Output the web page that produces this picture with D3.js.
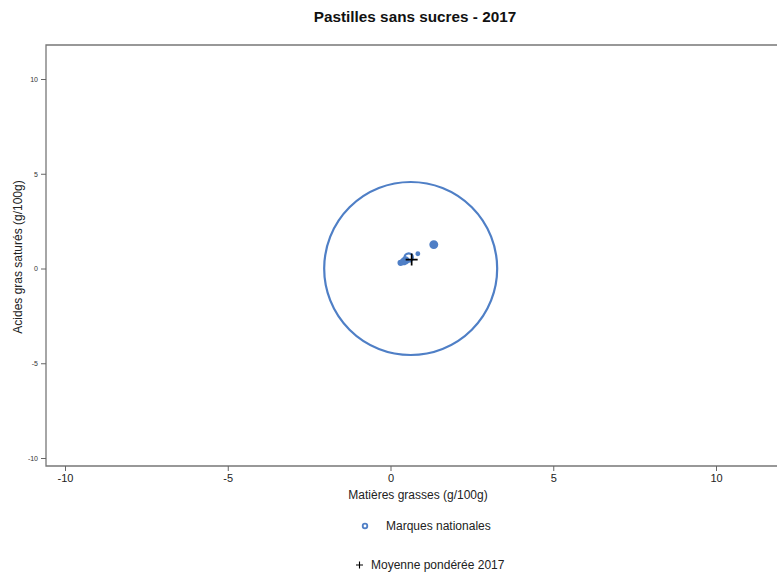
<!DOCTYPE html>
<html><head><meta charset="utf-8">
<script src="https://cdn.jsdelivr.net/npm/d3@7"></script>
<style>body{margin:0;background:#fff;}text{font-family:"Liberation Sans",Arial,sans-serif;}</style>
</head><body>
<svg id="c" width="777" height="576"></svg>
<script>
const title = "Pastilles sans sucres - 2017";
const xLabel = "Matières grasses (g/100g)";
const yLabel = "Acides gras saturés (g/100g)";
const xTicks = [-10, -5, 0, 5, 10];
const yTicks = [-10, -5, 0, 5, 10];
// Marques nationales: fat, saturated fat, weight (bubble size)
const brandFat   = [0.62, 0.31, 0.40, 0.46, 0.56, 0.84, 1.33];
const brandSat   = [0.00, 0.30, 0.36, 0.43, 0.58, 0.78, 1.26];
const brandWeight= [100, 0.12, 0.16, 0.22, 0.35, 0.07, 0.25];
const meanFat = [0.65];
const meanSat = [0.47];
const legendLabels = ["Marques nationales", "Moyenne pondérée 2017"];

(function(){
const blue = "#4f7fc6";
const svg = d3.select("#c");
const x = d3.scaleLinear().domain([-10, 10]).range([65, 716]);
const y = d3.scaleLinear().domain([-10, 10]).range([458, 79]);
const r = d3.scaleSqrt().domain([0, 100]).range([0, 87.5]);
const pLeft = 46, pTop = 45, pBottom = 466, pRight = 800;
const fmt = d => String(d);

svg.append("text").attr("x", 415).attr("y", 22).attr("text-anchor", "middle")
  .attr("font-size", 15.3).attr("font-weight", "bold").attr("fill", "#111").text(title);

// frame
svg.append("path").attr("d", `M${pRight},${pTop}H${pLeft}V${pBottom}H${pRight}`)
  .attr("fill", "none").attr("stroke", "#777").attr("stroke-width", 1.3);

// y axis
const ya = svg.append("g").attr("transform", `translate(${pLeft},0)`)
  .call(d3.axisLeft(y).tickValues(yTicks).tickSize(5).tickPadding(3).tickFormat(fmt));
ya.select(".domain").remove();
ya.selectAll("line").attr("stroke", "#666");
ya.selectAll("text").attr("font-size", 7).attr("fill", "#333").attr("font-family", "Liberation Sans, Arial, sans-serif");

// x axis
const xa = svg.append("g").attr("transform", `translate(0,${pBottom})`)
  .call(d3.axisBottom(x).tickValues(xTicks).tickSize(5).tickPadding(3).tickFormat(fmt));
xa.select(".domain").remove();
xa.selectAll("line").attr("stroke", "#666");
xa.selectAll("text").attr("font-size", 11).attr("fill", "#222").attr("font-family", "Liberation Sans, Arial, sans-serif");

svg.append("text").attr("x", 418).attr("y", 499).attr("text-anchor", "middle")
  .attr("font-size", 12).attr("fill", "#222").text(xLabel);
svg.append("text").attr("transform", "translate(22,257) rotate(-90)").attr("text-anchor", "middle")
  .attr("font-size", 12).attr("fill", "#222").text(yLabel);

// bubbles
const pts = brandFat.map((f, i) => ({f, s: brandSat[i], w: brandWeight[i]}));
svg.append("g").selectAll("circle").data(pts).join("circle")
  .attr("cx", d => x(d.f)).attr("cy", d => y(d.s))
  .attr("r", d => Math.max(1.2, r(d.w) - 1))
  .attr("fill", d => r(d.w) < 5 ? blue : "none")
  .attr("stroke", blue).attr("stroke-width", 2.2);

// mean cross
svg.append("g").selectAll("path").data(meanFat.map((f, i) => [f, meanSat[i]])).join("path")
  .attr("d", d => `M${x(d[0]) - 6},${y(d[1])}h12M${x(d[0])},${y(d[1]) - 6}v12`)
  .attr("stroke", "#000").attr("stroke-width", 1.7);

// legend
svg.append("circle").attr("cx", 365).attr("cy", 526).attr("r", 2.3)
  .attr("fill", "none").attr("stroke", blue).attr("stroke-width", 1.8);
svg.append("text").attr("x", 386).attr("y", 530).attr("font-size", 12).attr("fill", "#222").text(legendLabels[0]);
svg.append("path").attr("d", "M356,565h7M359.5,561.5v7").attr("stroke", "#000").attr("stroke-width", 1.1);
svg.append("text").attr("x", 371).attr("y", 569).attr("font-size", 12).attr("fill", "#222").text(legendLabels[1]);
})();
</script>
</body></html>
